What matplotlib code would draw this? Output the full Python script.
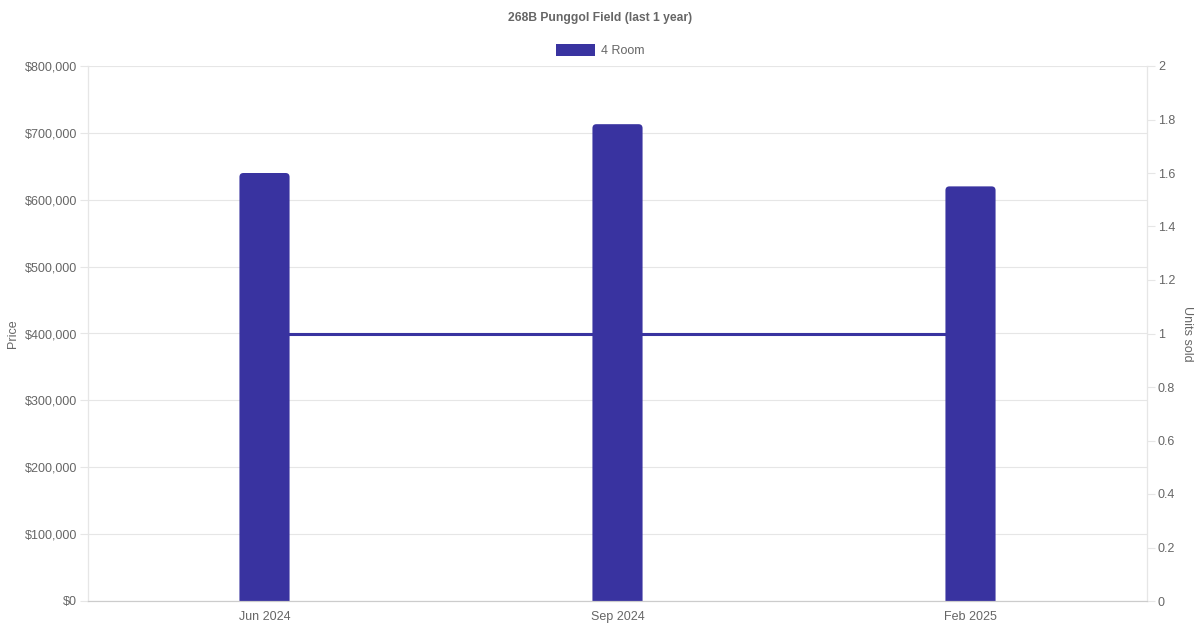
import numpy as np
import matplotlib
matplotlib.use("Agg")
import matplotlib.pyplot as plt
from matplotlib.patches import FancyBboxPatch
from matplotlib.transforms import blended_transform_factory

plt.rcParams['font.family'] = ['Liberation Sans', 'DejaVu Sans']

months = ['Jun 2024', 'Sep 2024', 'Feb 2025']
prices = [640000, 713000, 620000]
units = [1, 1, 1]
price_ticks = np.arange(0, 800001, 100000)
unit_ticks = np.arange(0, 2.01, 0.2)

bar_color = '#3933a0'
text_color = '#666666'
grid_color = '#e6e6e6'
fs = 9

fig = plt.figure(figsize=(12, 6.3), dpi=100)
ax = fig.add_axes([88/1200, 1 - 601/630, (1147 - 88)/1200, (601 - 66)/630])
ax2 = ax.twinx()

x = np.arange(len(months))
ax.set_xlim(-0.5, len(months) - 0.5)
ax.set_ylim(0, 800000)
ax2.set_ylim(0, 2)

# bars with rounded top corners
bw = 0.142
px_x = 1059 / len(months)
px_y = 535 / 800000
r = 4 / px_x
for xi, p in zip(x, prices):
    patch = FancyBboxPatch((xi - bw/2, -r * px_x / px_y * 2), bw, p + r * px_x / px_y * 2,
                           boxstyle=f"round,pad=0,rounding_size={r}",
                           mutation_aspect=px_x / px_y,
                           facecolor=bar_color, edgecolor='none', zorder=2)
    ax.add_patch(patch)

# units sold line, scaled on the right axis but drawn behind the bars
tr = blended_transform_factory(ax.transData, ax2.transData)
ax.plot(x, units, color=bar_color, lw=2.2, transform=tr, zorder=1)

ax.set_yticks(price_ticks)
ax.set_yticklabels([f"${v:,.0f}" for v in price_ticks])
ax.set_xticks(x)
ax.set_xticklabels(months)
ax.grid(axis='y', color=grid_color, lw=0.8)
ax.set_axisbelow(True)
ax.tick_params(axis='y', colors=grid_color, length=5.8, width=0.8, labelcolor=text_color,
               labelsize=fs, pad=2)
ax.tick_params(axis='x', length=0, labelcolor=text_color, labelsize=fs, pad=7)

ax2.set_yticks(unit_ticks)
ax2.set_yticklabels([f"{v:g}" for v in unit_ticks])
ax2.tick_params(axis='y', colors=grid_color, length=5.8, width=0.8, labelcolor=text_color,
                labelsize=fs, pad=2)

for a in (ax, ax2):
    a.spines['top'].set_visible(False)
    a.spines['left'].set_color(grid_color)
    a.spines['right'].set_color(grid_color)
    a.spines['bottom'].set_color('#cccccc')
    for s in a.spines.values():
        s.set_linewidth(0.8)

ax.set_ylabel('Price', color=text_color, fontsize=fs, labelpad=4)
ax2.set_ylabel('Units sold', color=text_color, fontsize=fs, rotation=-90, labelpad=12.5)

fig.text(0.5, 1 - 17.5/630, '268B Punggol Field (last 1 year)', ha='center', va='center',
         fontsize=8.7, fontweight='bold', color=text_color)

# legend
fig.patches.append(plt.Rectangle((556/1200, 1 - 56/630), 39/1200, 12/630,
                                 transform=fig.transFigure, facecolor=bar_color,
                                 edgecolor='none'))
fig.text(601/1200, 1 - 50.5/630, '4 Room', ha='left', va='center', fontsize=fs,
         color=text_color)

fig.savefig('out.png', dpi=100)
